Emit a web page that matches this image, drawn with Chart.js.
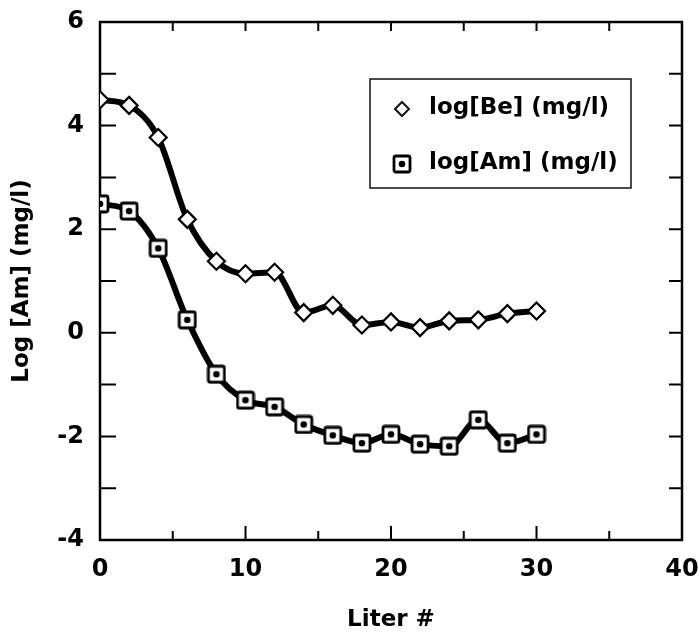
<!DOCTYPE html>
<html>
<head>
<meta charset="utf-8">
<script src="https://cdn.jsdelivr.net/npm/chart.js@4.4.1/dist/chart.umd.min.js"></script>
<style>
    body { margin: 0; background: #fff; }
    #caja { width: 699px; height: 634px; }
</style>
</head>
<body>
<div id="caja"><canvas id="grafico" width="699" height="634"></canvas></div>
<script>
// datos
const litros = [0, 2, 4, 6, 8, 10, 12, 14, 16, 18, 20, 22, 24, 26, 28, 30];
const logBe = [4.5, 4.39, 3.77, 2.19, 1.38, 1.14, 1.17, 0.39, 0.53, 0.15, 0.21, 0.1, 0.23, 0.25, 0.37, 0.42];
const logAm = [2.49, 2.35, 1.63, 0.25, -0.8, -1.3, -1.43, -1.77, -1.98, -2.13, -1.96, -2.15, -2.19, -1.68, -2.13, -1.96];
const ticksX = [0, 10, 20, 30, 40];
const ticksY = [-4, -2, 0, 2, 4, 6];
const etiquetas = ['log[Be] (mg/l)', 'log[Am] (mg/l)'];

Chart.defaults.font.family = "'DejaVu Sans', 'Liberation Sans', sans-serif";
Chart.defaults.font.weight = 'bold';
Chart.defaults.color = '#000';

// marca cuadrada con punto para Am
function crearMarcaAm() {
    const c = document.createElement('canvas');
    c.width = 20;
    c.height = 20;
    const g = c.getContext('2d');
    g.fillStyle = '#fff';
    g.strokeStyle = '#000';
    g.lineWidth = 2.8;
    g.beginPath();
    g.roundRect(2, 2, 16, 16, 2);
    g.fill();
    g.stroke();
    g.fillStyle = '#000';
    g.beginPath();
    g.arc(10, 10, 3.3, 0, Math.PI * 2);
    g.fill();
    return c;
}
const marcaAm = crearMarcaAm();

// ticks hacia adentro, marco completo y leyenda dentro del area
const marcoPlugin = {
    id: 'marco',
    beforeDatasetsDraw(chart) {
        const { ctx, chartArea: a, scales: { x, y } } = chart;
        ctx.save();
        ctx.strokeStyle = '#000';
        ctx.lineWidth = 2;
        for (let v = 0; v <= 40; v += 5) {
            const px = x.getPixelForValue(v);
            const largo = v % 10 === 0 ? 14 : 9;
            ctx.beginPath();
            ctx.moveTo(px, a.bottom);
            ctx.lineTo(px, a.bottom - largo);
            ctx.moveTo(px, a.top);
            ctx.lineTo(px, a.top + 9);
            ctx.stroke();
        }
        for (let v = -4; v <= 6; v += 1) {
            const py = y.getPixelForValue(v);
            ctx.beginPath();
            ctx.moveTo(a.left, py);
            ctx.lineTo(a.left + 16, py);
            ctx.moveTo(a.right, py);
            ctx.lineTo(a.right - 13, py);
            ctx.stroke();
        }
        ctx.lineWidth = 2.5;
        ctx.strokeRect(a.left, a.top, a.right - a.left, a.bottom - a.top);
        ctx.restore();
    },
    afterDraw(chart) {
        const { ctx, chartArea: a } = chart;
        const bx = a.left + 270, by = a.top + 57;
        ctx.save();
        ctx.fillStyle = '#fff';
        ctx.fillRect(bx, by, 261, 109);
        ctx.strokeStyle = '#111';
        ctx.lineWidth = 1.5;
        ctx.strokeRect(bx, by, 261, 109);
        ctx.font = "bold 23px 'DejaVu Sans'";
        ctx.fillStyle = '#000';
        ctx.textBaseline = 'middle';
        ctx.fillText(etiquetas[0], bx + 59, by + 29);
        ctx.fillText(etiquetas[1], bx + 59, by + 84);
        // diamante
        const dx = bx + 32, dy = by + 30;
        ctx.beginPath();
        ctx.moveTo(dx - 7, dy);
        ctx.lineTo(dx, dy - 7);
        ctx.lineTo(dx + 7, dy);
        ctx.lineTo(dx, dy + 7);
        ctx.closePath();
        ctx.fillStyle = '#fff';
        ctx.fill();
        ctx.lineWidth = 2;
        ctx.stroke();
        ctx.drawImage(marcaAm, bx + 32 - 10, by + 85 - 10);
        ctx.restore();
    }
};

new Chart(document.getElementById('grafico'), {
    type: 'line',
    data: {
        datasets: [
            {
                label: etiquetas[0],
                data: litros.map((l, i) => ({ x: l, y: logBe[i] })),
                borderColor: '#000',
                borderWidth: 6,
                cubicInterpolationMode: 'monotone',
                pointStyle: 'rectRot',
                pointRadius: 8.5,
                pointBackgroundColor: '#fff',
                pointBorderColor: '#000',
                pointBorderWidth: 2.2
            },
            {
                label: etiquetas[1],
                data: litros.map((l, i) => ({ x: l, y: logAm[i] })),
                borderColor: '#000',
                borderWidth: 6,
                cubicInterpolationMode: 'monotone',
                pointStyle: marcaAm,
                pointRadius: 10
            }
        ]
    },
    options: {
        responsive: false,
        devicePixelRatio: 1,
        animation: false,
        layout: { padding: { top: 22, right: 17, left: 8, bottom: 0 } },
        plugins: {
            legend: { display: false },
            tooltip: { enabled: false }
        },
        scales: {
            x: {
                type: 'linear',
                min: 0,
                max: 40,
                afterBuildTicks: s => { s.ticks = ticksX.map(v => ({ value: v })); },
                afterFit: s => { s.height = 94; s.paddingLeft = 0; s.paddingRight = 0; },
                grid: { display: false, drawTicks: false },
                border: { display: false },
                ticks: { font: { size: 24, weight: 'bold' }, padding: 15 },
                title: { display: true, text: 'Liter #', font: { size: 23, weight: 'bold' }, padding: 0 }
            },
            y: {
                type: 'linear',
                min: -4,
                max: 6,
                afterBuildTicks: s => { s.ticks = ticksY.map(v => ({ value: v })); },
                afterFit: s => { s.width = 92; s.paddingTop = 0; s.paddingBottom = 0; },
                grid: { display: false, drawTicks: false },
                border: { display: false },
                ticks: { font: { size: 24, weight: 'bold' }, padding: 16 },
                title: { display: true, text: 'Log [Am] (mg/l)', font: { size: 23, weight: 'bold' }, padding: 0 }
            }
        }
    },
    plugins: [marcoPlugin]
});
</script>
</body>
</html>
